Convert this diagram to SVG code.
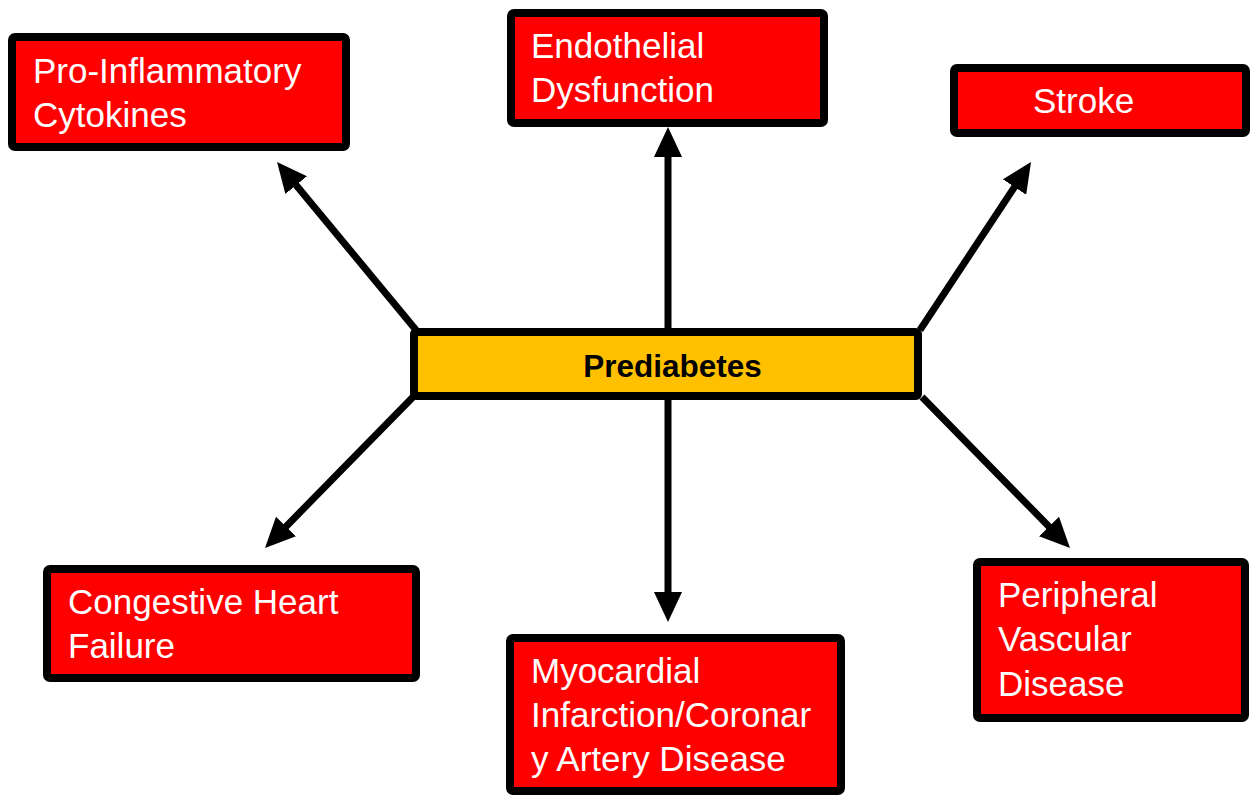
<svg xmlns="http://www.w3.org/2000/svg" width="1254" height="796" viewBox="0 0 1254 796">
<defs>
<style>
.box{fill:#FF0000;stroke:#000;stroke-width:8;}
.center{fill:#FFC000;stroke:#000;stroke-width:8;}
.lbl{font-family:"Liberation Sans",Arial,sans-serif;font-size:35px;fill:#fff;}
.clbl{font-family:"Liberation Sans",Arial,sans-serif;font-size:31.5px;font-weight:bold;fill:#000;}
.conn{stroke:#000;stroke-width:7;fill:none;marker-end:url(#ah);}
</style>
<marker id="ah" markerUnits="userSpaceOnUse" viewBox="0 0 30 28" markerWidth="30" markerHeight="28" refX="10" refY="14" orient="auto">
<path d="M0,0 L30,14 L0,28 z" fill="#000"/>
</marker>
</defs>
<rect width="1254" height="796" fill="#fff"/>
<g id="connectors">
<line class="conn" x1="416" y1="330" x2="289.8" y2="177.4"/>
<line class="conn" x1="668" y1="330" x2="668" y2="147"/>
<line class="conn" x1="920" y1="330" x2="1020" y2="178.7"/>
<line class="conn" x1="413" y1="397" x2="279" y2="533.7"/>
<line class="conn" x1="668" y1="400" x2="668" y2="602"/>
<line class="conn" x1="922" y1="397" x2="1056" y2="533.7"/>
</g>
<g id="prediabetes">
<rect class="center" x="414" y="332" width="504" height="64" rx="2"/>
<text class="clbl" x="672.5" y="377" text-anchor="middle">Prediabetes</text>
</g>
<g id="pro-inflammatory">
<rect class="box" x="12" y="37" width="334" height="110" rx="3"/>
<text class="lbl" x="33" y="83">Pro-Inflammatory</text>
<text class="lbl" x="33" y="127">Cytokines</text>
</g>
<g id="endothelial">
<rect class="box" x="511" y="13" width="313" height="110" rx="3"/>
<text class="lbl" x="531" y="58">Endothelial</text>
<text class="lbl" x="531" y="102">Dysfunction</text>
</g>
<g id="stroke">
<rect class="box" x="954" y="68" width="292" height="65" rx="3"/>
<text class="lbl" x="1033" y="113">Stroke</text>
</g>
<g id="chf">
<rect class="box" x="47" y="569" width="369" height="109" rx="3"/>
<text class="lbl" x="68" y="614">Congestive Heart</text>
<text class="lbl" x="68" y="658">Failure</text>
</g>
<g id="mi-cad">
<rect class="box" x="510" y="638" width="331" height="153" rx="3"/>
<text class="lbl" x="531" y="683">Myocardial</text>
<text class="lbl" x="531" y="727">Infarction/Coronar</text>
<text class="lbl" x="531" y="771">y Artery Disease</text>
</g>
<g id="pvd">
<rect class="box" x="977" y="562" width="268" height="156" rx="3"/>
<text class="lbl" x="998" y="607">Peripheral</text>
<text class="lbl" x="998" y="651">Vascular</text>
<text class="lbl" x="998" y="696">Disease</text>
</g>
</svg>
